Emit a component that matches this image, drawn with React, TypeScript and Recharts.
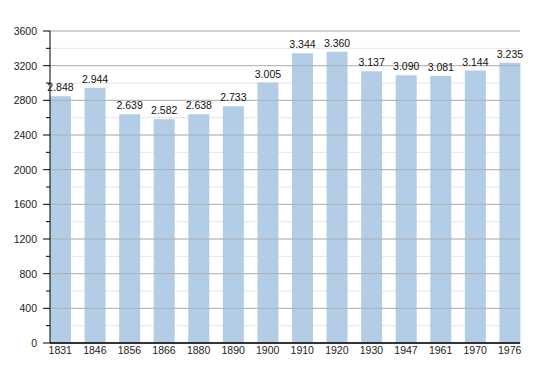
import { BarChart, Bar, XAxis, YAxis, CartesianGrid, ReferenceLine, LabelList } from 'recharts'

const years = ['1831', '1846', '1856', '1866', '1880', '1890', '1900', '1910', '1920', '1930', '1947', '1961', '1970', '1976']
const population = [2848, 2944, 2639, 2582, 2638, 2733, 3005, 3344, 3360, 3137, 3090, 3081, 3144, 3235]

const allTicks = [0, 200, 400, 600, 800, 1000, 1200, 1400, 1600, 1800, 2000, 2200, 2400, 2600, 2800, 3000, 3200, 3400, 3600]
const majorTicks = [0, 400, 800, 1200, 1600, 2000, 2400, 2800, 3200, 3600]

const data = years.map((y, i) => ({ year: y, value: population[i] }))

const font = '"Liberation Sans", Arial, sans-serif'

// dotted thousands, e.g. 2848 -> 2.848
const fmt = (v: number) => {
  const s = String(v)
  return s.length > 3 ? s.slice(0, -3) + '.' + s.slice(-3) : s
}

function YTick(props: any) {
  const { x, y, payload } = props
  const major = payload.value % 400 === 0
  return (
    <g>
      <line x1={major ? x + 6 : x + 9} x2={x + 13} y1={y} y2={y} stroke="#000" strokeWidth={1} />
      {major && (
        <text x={x} y={y} dy={4} textAnchor="end" fontSize={10.5} fill="#222" fontFamily={font}>
          {payload.value}
        </text>
      )}
    </g>
  )
}

export default function App() {
  return (
    <div style={{ position: 'absolute', left: 0, top: 0, background: '#fff' }}>
      <BarChart width={550} height={373} data={data} margin={{ top: 31, right: 30, left: 0, bottom: 10 }}>
        <CartesianGrid vertical={false} stroke="#e6e6e6" />
        {majorTicks.map(t => (
          <ReferenceLine key={t} y={t} stroke="#b0b0b0" strokeWidth={1} />
        ))}
        <XAxis
          dataKey="year"
          padding={{ left: -7, right: -7 }}
          tickLine={false}
          axisLine={{ stroke: '#000', strokeWidth: 1.5 }}
          height={20}
          tickSize={4}
          tickMargin={0}
          tick={{ fontSize: 10.5, fill: '#222', fontFamily: font }}
          interval={0}
        />
        <YAxis
          width={50}
          domain={[0, 3600]}
          ticks={allTicks}
          interval={0}
          tickLine={false}
          tickSize={0}
          tickMargin={13}
          axisLine={{ stroke: '#000', strokeWidth: 1 }}
          tick={<YTick />}
        />
        <Bar dataKey="value" fill="#b3cde6" barSize={21} isAnimationActive={false}>
          <LabelList dataKey="value" position="top" offset={5} formatter={(v: any) => fmt(v)} fontSize={10.5} fill="#111" fontFamily={font} />
        </Bar>
      </BarChart>
    </div>
  )
}
